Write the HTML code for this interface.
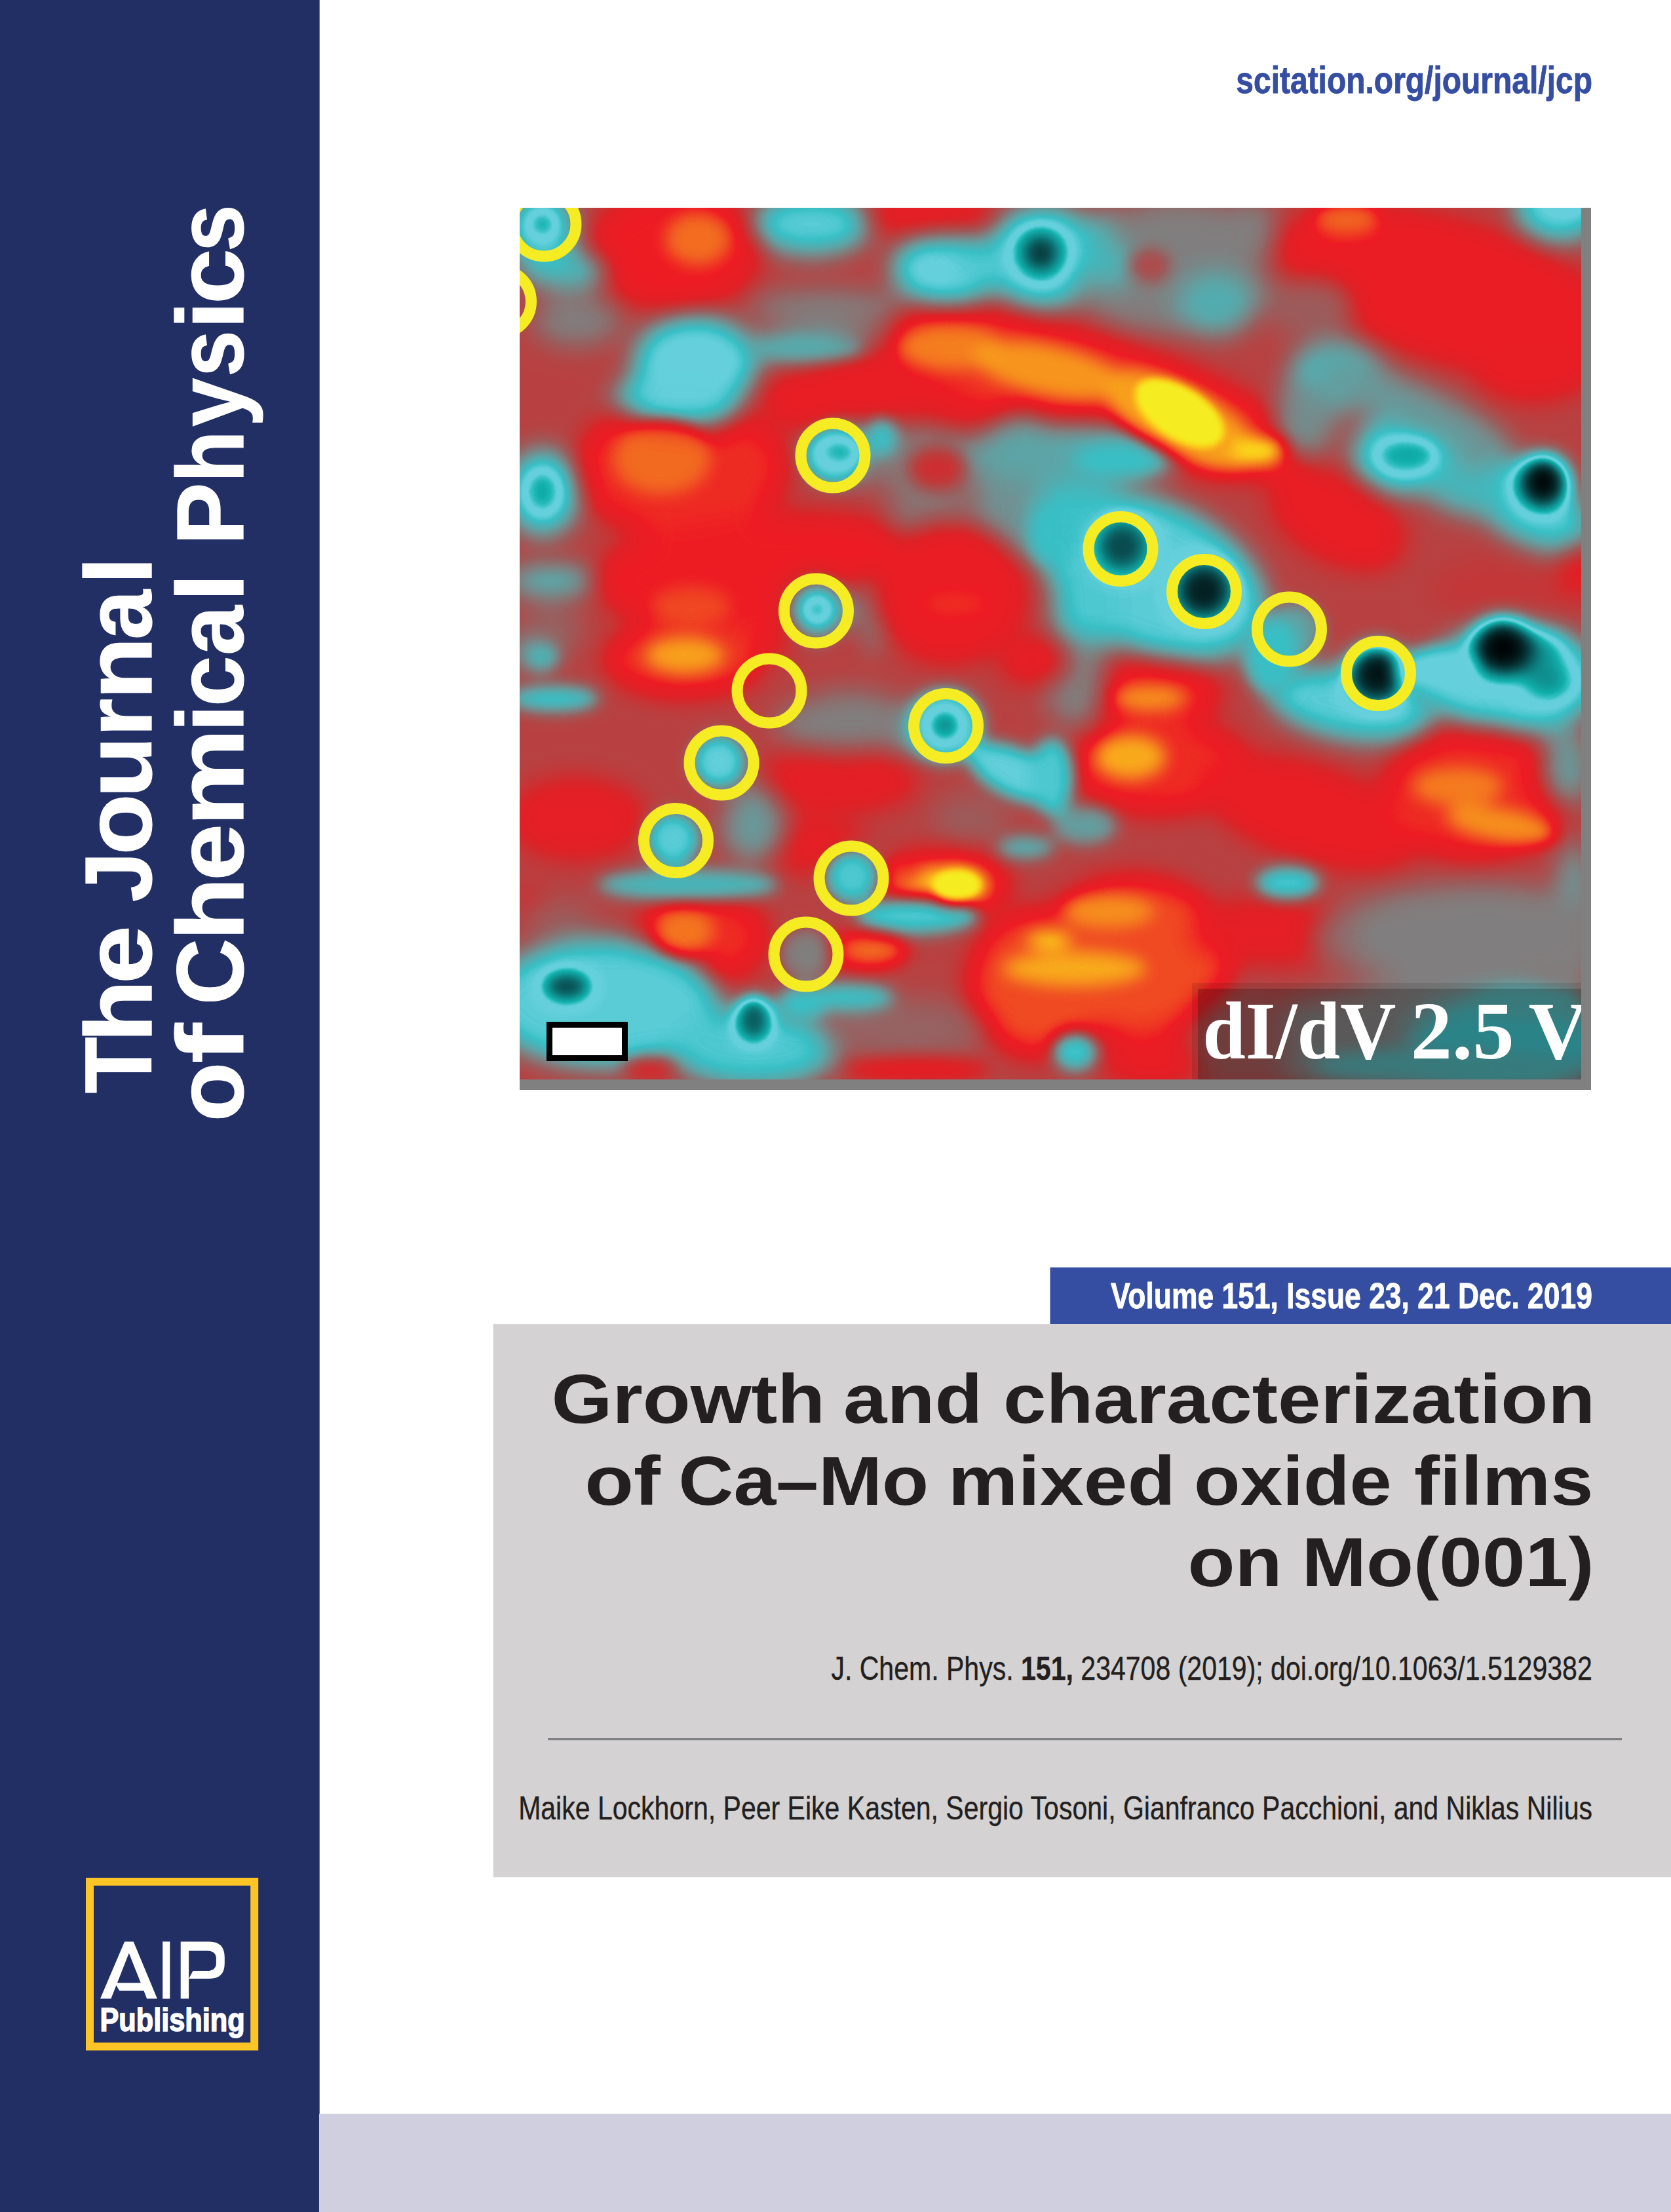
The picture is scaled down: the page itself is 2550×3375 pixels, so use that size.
<!DOCTYPE html>
<html><head><meta charset="utf-8"><title>The Journal of Chemical Physics</title>
<style>html,body{margin:0;padding:0;background:#fff}body{width:2550px;height:3375px;overflow:hidden;font-family:"Liberation Sans",sans-serif}svg{display:block}text{font-family:"Liberation Sans",sans-serif}</style></head>
<body><svg width="2550" height="3375" viewBox="0 0 2550 3375">
<defs><filter id="bc" filterUnits="userSpaceOnUse" x="643" y="167" width="1920" height="1629" color-interpolation-filters="sRGB"><feGaussianBlur stdDeviation="20"/></filter><filter id="bd" filterUnits="userSpaceOnUse" x="643" y="167" width="1920" height="1629" color-interpolation-filters="sRGB"><feGaussianBlur stdDeviation="16"/></filter><filter id="bm" filterUnits="userSpaceOnUse" x="643" y="167" width="1920" height="1629" color-interpolation-filters="sRGB"><feGaussianBlur stdDeviation="12"/></filter><filter id="bf" filterUnits="userSpaceOnUse" x="643" y="167" width="1920" height="1629" color-interpolation-filters="sRGB"><feGaussianBlur stdDeviation="6"/></filter><filter id="cm" filterUnits="userSpaceOnUse" x="643" y="167" width="1920" height="1629" color-interpolation-filters="sRGB"><feComponentTransfer><feFuncR type="table" tableValues="0.000 0.006 0.011 0.017 0.022 0.028 0.034 0.039 0.044 0.048 0.053 0.058 0.063 0.069 0.205 0.384 0.402 0.394 0.307 0.220 0.269 0.319 0.369 0.413 0.458 0.502 0.539 0.575 0.612 0.651 0.690 0.729 0.770 0.810 0.850 0.880 0.897 0.915 0.933 0.936 0.939 0.942 0.945 0.952 0.959 0.965 0.972 0.978 0.984 0.973 0.961"/><feFuncG type="table" tableValues="0.016 0.056 0.096 0.137 0.182 0.232 0.283 0.333 0.395 0.457 0.518 0.578 0.635 0.692 0.753 0.816 0.820 0.816 0.784 0.753 0.716 0.680 0.643 0.596 0.549 0.502 0.455 0.408 0.361 0.324 0.288 0.251 0.217 0.184 0.150 0.130 0.123 0.117 0.110 0.171 0.231 0.292 0.353 0.418 0.483 0.548 0.621 0.703 0.784 0.859 0.933"/><feFuncB type="table" tableValues="0.020 0.061 0.103 0.144 0.190 0.242 0.294 0.345 0.403 0.462 0.520 0.575 0.626 0.677 0.764 0.863 0.867 0.860 0.818 0.776 0.735 0.693 0.651 0.601 0.552 0.502 0.455 0.408 0.361 0.324 0.288 0.251 0.222 0.193 0.164 0.148 0.146 0.143 0.141 0.139 0.137 0.135 0.133 0.128 0.122 0.117 0.111 0.107 0.102 0.118 0.133"/></feComponentTransfer></filter>
<clipPath id="ic"><rect x="793" y="317" width="1620" height="1329.5"/></clipPath>
</defs>
<rect x="0" y="0" width="487.7" height="3375" fill="#222f64"/>
<rect x="487" y="3225.1" width="2063" height="150" fill="#d0cfdf"/>
<text x="1886.32" y="142.00" font-size="57.50" textLength="543.62" lengthAdjust="spacingAndGlyphs" fill="#354ea2" xml:space="preserve" stroke="#354ea2" stroke-width="0.9"><tspan font-family="Liberation Sans" font-weight="bold">scitation.org/journal/jcp</tspan></text>
<rect x="1602.5" y="1933.7" width="948" height="86.5" fill="#354ea2"/>
<text x="1695.03" y="1995.70" font-size="56.00" textLength="734.88" lengthAdjust="spacingAndGlyphs" fill="#fff" xml:space="preserve" stroke="#fff" stroke-width="0.9"><tspan font-family="Liberation Sans" font-weight="bold">Volume 151, Issue 23, 21 Dec. 2019</tspan></text>
<rect x="752.7" y="2020.2" width="1798" height="844" fill="#d4d2d3"/>
<text x="841.40" y="2170.80" font-size="106.50" textLength="417.94" lengthAdjust="spacingAndGlyphs" fill="#231f20" xml:space="preserve" ><tspan font-family="Liberation Sans" font-weight="bold">Growth</tspan></text>
<text x="1287.14" y="2170.80" font-size="106.50" textLength="212.22" lengthAdjust="spacingAndGlyphs" fill="#231f20" xml:space="preserve" ><tspan font-family="Liberation Sans" font-weight="bold">and</tspan></text>
<text x="1531.01" y="2170.80" font-size="106.50" textLength="903.23" lengthAdjust="spacingAndGlyphs" fill="#231f20" xml:space="preserve" ><tspan font-family="Liberation Sans" font-weight="bold">characterization</tspan></text>
<text x="892.23" y="2295.80" font-size="106.50" textLength="115.51" lengthAdjust="spacingAndGlyphs" fill="#231f20" xml:space="preserve" ><tspan font-family="Liberation Sans" font-weight="bold">of</tspan></text>
<text x="1035.22" y="2295.80" font-size="106.50" textLength="382.05" lengthAdjust="spacingAndGlyphs" fill="#231f20" xml:space="preserve" ><tspan font-family="Liberation Sans" font-weight="bold">Ca–Mo</tspan></text>
<text x="1446.80" y="2295.80" font-size="106.50" textLength="346.94" lengthAdjust="spacingAndGlyphs" fill="#231f20" xml:space="preserve" ><tspan font-family="Liberation Sans" font-weight="bold">mixed</tspan></text>
<text x="1822.09" y="2295.80" font-size="106.50" textLength="301.82" lengthAdjust="spacingAndGlyphs" fill="#231f20" xml:space="preserve" ><tspan font-family="Liberation Sans" font-weight="bold">oxide</tspan></text>
<text x="2158.01" y="2295.80" font-size="106.50" textLength="273.37" lengthAdjust="spacingAndGlyphs" fill="#231f20" xml:space="preserve" ><tspan font-family="Liberation Sans" font-weight="bold">films</tspan></text>
<text x="1812.40" y="2420.30" font-size="106.50" textLength="144.18" lengthAdjust="spacingAndGlyphs" fill="#231f20" xml:space="preserve" ><tspan font-family="Liberation Sans" font-weight="bold">on</tspan></text>
<text x="1986.71" y="2420.30" font-size="106.50" textLength="445.81" lengthAdjust="spacingAndGlyphs" fill="#231f20" xml:space="preserve" ><tspan font-family="Liberation Sans" font-weight="bold">Mo(001)</tspan></text>
<text x="1268.38" y="2563.00" font-size="50.00" textLength="1161.37" lengthAdjust="spacingAndGlyphs" fill="#231f20" xml:space="preserve" stroke="#231f20" stroke-width="0.4"><tspan font-family="Liberation Sans" font-weight="normal">J. Chem. Phys. </tspan><tspan font-family="Liberation Sans" font-weight="bold">151,</tspan><tspan font-family="Liberation Sans" font-weight="normal"> 234708 (2019); doi.org/10.1063/1.5129382</tspan></text>
<rect x="836" y="2652" width="1639" height="3.2" fill="#808184"/>
<text x="791.14" y="2776.30" font-size="50.00" textLength="1638.86" lengthAdjust="spacingAndGlyphs" fill="#231f20" xml:space="preserve" stroke="#231f20" stroke-width="0.4"><tspan font-family="Liberation Sans" font-weight="normal">Maike Lockhorn, Peer Eike Kasten, Sergio Tosoni, Gianfranco Pacchioni, and Niklas Nilius</tspan></text>
<g transform="translate(230.6,0) rotate(-90)" stroke="#fff" stroke-width="1.2"><text x="-1668.55" y="0.00" font-size="145.00" textLength="86.35" lengthAdjust="spacingAndGlyphs" fill="#fff" xml:space="preserve" ><tspan font-family="Liberation Sans" font-weight="bold">T</tspan></text><text x="-1590.40" y="0.00" font-size="145.00" textLength="95.57" lengthAdjust="spacingAndGlyphs" fill="#fff" xml:space="preserve" ><tspan font-family="Liberation Sans" font-weight="bold">h</tspan></text><text x="-1501.16" y="0.00" font-size="145.00" textLength="89.24" lengthAdjust="spacingAndGlyphs" fill="#fff" xml:space="preserve" ><tspan font-family="Liberation Sans" font-weight="bold">e</tspan></text><text x="-1376.36" y="0.00" font-size="145.00" textLength="76.54" lengthAdjust="spacingAndGlyphs" fill="#fff" xml:space="preserve" ><tspan font-family="Liberation Sans" font-weight="bold">J</tspan></text><text x="-1304.56" y="0.00" font-size="145.00" textLength="93.29" lengthAdjust="spacingAndGlyphs" fill="#fff" xml:space="preserve" ><tspan font-family="Liberation Sans" font-weight="bold">o</tspan></text><text x="-1217.59" y="0.00" font-size="145.00" textLength="94.47" lengthAdjust="spacingAndGlyphs" fill="#fff" xml:space="preserve" ><tspan font-family="Liberation Sans" font-weight="bold">u</tspan></text><text x="-1124.53" y="0.00" font-size="145.00" textLength="58.88" lengthAdjust="spacingAndGlyphs" fill="#fff" xml:space="preserve" ><tspan font-family="Liberation Sans" font-weight="bold">r</tspan></text><text x="-1067.41" y="0.00" font-size="145.00" textLength="95.92" lengthAdjust="spacingAndGlyphs" fill="#fff" xml:space="preserve" ><tspan font-family="Liberation Sans" font-weight="bold">n</tspan></text><text x="-975.95" y="0.00" font-size="145.00" textLength="75.82" lengthAdjust="spacingAndGlyphs" fill="#fff" xml:space="preserve" ><tspan font-family="Liberation Sans" font-weight="bold">a</tspan></text><text x="-892.32" y="0.00" font-size="145.00" textLength="43.17" lengthAdjust="spacingAndGlyphs" fill="#fff" xml:space="preserve" ><tspan font-family="Liberation Sans" font-weight="bold">l</tspan></text></g>
<g transform="translate(371.0,0) rotate(-90)" stroke="#fff" stroke-width="1.2"><text x="-1711.52" y="0.00" font-size="145.00" textLength="91.11" lengthAdjust="spacingAndGlyphs" fill="#fff" xml:space="preserve" ><tspan font-family="Liberation Sans" font-weight="bold">o</tspan></text><text x="-1622.63" y="0.00" font-size="145.00" textLength="61.26" lengthAdjust="spacingAndGlyphs" fill="#fff" xml:space="preserve" ><tspan font-family="Liberation Sans" font-weight="bold">f</tspan></text><text x="-1533.26" y="0.00" font-size="145.00" textLength="101.48" lengthAdjust="spacingAndGlyphs" fill="#fff" xml:space="preserve" ><tspan font-family="Liberation Sans" font-weight="bold">C</tspan></text><text x="-1434.98" y="0.00" font-size="145.00" textLength="96.34" lengthAdjust="spacingAndGlyphs" fill="#fff" xml:space="preserve" ><tspan font-family="Liberation Sans" font-weight="bold">h</tspan></text><text x="-1344.01" y="0.00" font-size="145.00" textLength="87.17" lengthAdjust="spacingAndGlyphs" fill="#fff" xml:space="preserve" ><tspan font-family="Liberation Sans" font-weight="bold">e</tspan></text><text x="-1260.74" y="0.00" font-size="145.00" textLength="149.63" lengthAdjust="spacingAndGlyphs" fill="#fff" xml:space="preserve" ><tspan font-family="Liberation Sans" font-weight="bold">m</tspan></text><text x="-1117.92" y="0.00" font-size="145.00" textLength="43.97" lengthAdjust="spacingAndGlyphs" fill="#fff" xml:space="preserve" ><tspan font-family="Liberation Sans" font-weight="bold">i</tspan></text><text x="-1078.03" y="0.00" font-size="145.00" textLength="77.50" lengthAdjust="spacingAndGlyphs" fill="#fff" xml:space="preserve" ><tspan font-family="Liberation Sans" font-weight="bold">c</tspan></text><text x="-999.95" y="0.00" font-size="145.00" textLength="75.82" lengthAdjust="spacingAndGlyphs" fill="#fff" xml:space="preserve" ><tspan font-family="Liberation Sans" font-weight="bold">a</tspan></text><text x="-918.17" y="0.00" font-size="145.00" textLength="43.77" lengthAdjust="spacingAndGlyphs" fill="#fff" xml:space="preserve" ><tspan font-family="Liberation Sans" font-weight="bold">l</tspan></text><text x="-832.08" y="0.00" font-size="145.00" textLength="95.76" lengthAdjust="spacingAndGlyphs" fill="#fff" xml:space="preserve" ><tspan font-family="Liberation Sans" font-weight="bold">P</tspan></text><text x="-736.60" y="0.00" font-size="145.00" textLength="79.66" lengthAdjust="spacingAndGlyphs" fill="#fff" xml:space="preserve" ><tspan font-family="Liberation Sans" font-weight="bold">h</tspan></text><text x="-650.93" y="0.00" font-size="145.00" textLength="74.22" lengthAdjust="spacingAndGlyphs" fill="#fff" xml:space="preserve" ><tspan font-family="Liberation Sans" font-weight="bold">y</tspan></text><text x="-574.96" y="0.00" font-size="145.00" textLength="70.88" lengthAdjust="spacingAndGlyphs" fill="#fff" xml:space="preserve" ><tspan font-family="Liberation Sans" font-weight="bold">s</tspan></text><text x="-502.77" y="0.00" font-size="145.00" textLength="43.77" lengthAdjust="spacingAndGlyphs" fill="#fff" xml:space="preserve" ><tspan font-family="Liberation Sans" font-weight="bold">i</tspan></text><text x="-464.03" y="0.00" font-size="145.00" textLength="84.56" lengthAdjust="spacingAndGlyphs" fill="#fff" xml:space="preserve" ><tspan font-family="Liberation Sans" font-weight="bold">c</tspan></text><text x="-384.12" y="0.00" font-size="145.00" textLength="71.80" lengthAdjust="spacingAndGlyphs" fill="#fff" xml:space="preserve" ><tspan font-family="Liberation Sans" font-weight="bold">s</tspan></text></g>
<rect x="137" y="2871" width="251.2" height="251.5" fill="none" stroke="#fcc424" stroke-width="12"/>
<path fill="#fff" fill-rule="evenodd" d="M153.0,3049.6 L190.1,2962.4 L203.7,2962.4 L239.9,3049.6 L224.1,3049.6 L219.5,3037.6 L182.4,3037.6 L177.4,3029.2 L169.4,3049.6 Z M196.8,2980.1 L214.8,3025.5 L178.9,3025.5 Z"/>
<rect x="248.2" y="2962.4" width="11.1" height="87.2" fill="#fff"/>
<path fill="#fff" fill-rule="evenodd" d="M275.7,2962.4 L319.6,2962.4 Q342.8,2962.4 342.8,2986.6 L342.8,2995.8 Q342.8,3019.0 319.6,3019.0 L294.6,3019.0 L288.1,3019.0 L288.1,3049.6 L275.7,3049.6 L275.7,2962.4 Z M288.1,2976.4 L315.9,2976.4 Q329.9,2976.4 329.9,2988.4 L329.9,2994.9 Q329.9,3007.0 315.9,3007.0 L294.6,3007.0 L288.1,3019.0 Z"/>
<text x="152.44" y="3098.80" font-size="49.50" textLength="221.25" lengthAdjust="spacingAndGlyphs" fill="#fff" xml:space="preserve" stroke="#fff" stroke-width="1.6"><tspan font-family="Liberation Sans" font-weight="bold">Publishing</tspan></text>
<rect x="793" y="317" width="1635" height="1346" fill="#808080"/>
<g clip-path="url(#ic)"><g filter="url(#cm)">
<rect x="643" y="167" width="1920" height="1629" fill="rgb(158,158,158)"/>
<g filter="url(#bc)">
<ellipse cx="1030" cy="380" rx="130" ry="90" fill="rgb(194,194,194)"/>
<ellipse cx="880" cy="490" rx="70" ry="40" fill="rgb(128,128,128)"/>
<ellipse cx="1260" cy="470" rx="120" ry="30" fill="rgb(128,128,128)"/>
<ellipse cx="825" cy="350" rx="55" ry="60" fill="rgb(92,92,92)"/>
<ellipse cx="860" cy="412" rx="70" ry="28" fill="rgb(97,97,97)"/>
<ellipse cx="1238" cy="342" rx="92" ry="48" fill="rgb(89,89,89)"/>
<ellipse cx="1445" cy="410" rx="85" ry="58" fill="rgb(84,84,84)"/>
<ellipse cx="1592" cy="392" rx="92" ry="80" fill="rgb(89,89,89)"/>
<ellipse cx="1510" cy="400" rx="60" ry="35" fill="rgb(92,92,92)"/>
<ellipse cx="1060" cy="555" rx="95" ry="75" fill="rgb(84,84,84)"/>
<ellipse cx="1030" cy="610" rx="95" ry="45" fill="rgb(87,87,87)"/>
<ellipse cx="1250" cy="530" rx="110" ry="22" fill="rgb(107,107,107)"/>
<ellipse cx="1040" cy="715" rx="160" ry="105" fill="rgb(199,199,199)"/>
<ellipse cx="1400" cy="590" rx="240" ry="70" fill="rgb(189,189,189)" transform="rotate(-6 1400 590)"/>
<ellipse cx="1680" cy="600" rx="330" ry="80" fill="rgb(204,204,204)" transform="rotate(18 1680 600)"/>
<ellipse cx="828" cy="752" rx="58" ry="68" fill="rgb(89,89,89)"/>
<ellipse cx="1295" cy="688" rx="60" ry="42" fill="rgb(92,92,92)"/>
<ellipse cx="1560" cy="740" rx="75" ry="115" fill="rgb(120,120,120)"/>
<ellipse cx="1200" cy="885" rx="290" ry="100" fill="rgb(194,194,194)"/>
<ellipse cx="1247" cy="930" rx="48" ry="48" fill="rgb(92,92,92)"/>
<ellipse cx="840" cy="886" rx="70" ry="22" fill="rgb(97,97,97)"/>
<ellipse cx="815" cy="990" rx="35" ry="28" fill="rgb(97,97,97)"/>
<ellipse cx="1400" cy="700" rx="95" ry="60" fill="rgb(133,133,133)"/>
<ellipse cx="1420" cy="790" rx="70" ry="40" fill="rgb(133,133,133)"/>
<ellipse cx="1588" cy="386" rx="30" ry="30" fill="rgb(0,0,0)"/>
<ellipse cx="2215" cy="445" rx="275" ry="105" fill="rgb(191,191,191)" transform="rotate(17 2215 445)"/>
<ellipse cx="2340" cy="560" rx="90" ry="50" fill="rgb(189,189,189)"/>
<ellipse cx="1790" cy="440" rx="150" ry="70" fill="rgb(128,128,128)"/>
<ellipse cx="1855" cy="465" rx="60" ry="50" fill="rgb(107,107,107)"/>
<ellipse cx="1690" cy="380" rx="40" ry="60" fill="rgb(102,102,102)"/>
<ellipse cx="2040" cy="575" rx="75" ry="55" fill="rgb(97,97,97)"/>
<ellipse cx="1990" cy="640" rx="50" ry="60" fill="rgb(122,122,122)"/>
<ellipse cx="2148" cy="693" rx="85" ry="62" fill="rgb(87,87,87)"/>
<ellipse cx="2335" cy="775" rx="105" ry="55" fill="rgb(92,92,92)" transform="rotate(28 2335 775)"/>
<ellipse cx="2230" cy="745" rx="70" ry="40" fill="rgb(102,102,102)" transform="rotate(20 2230 745)"/>
<ellipse cx="2040" cy="792" rx="110" ry="62" fill="rgb(189,189,189)" transform="rotate(28 2040 792)"/>
<ellipse cx="2300" cy="900" rx="120" ry="50" fill="rgb(163,163,163)"/>
<ellipse cx="1760" cy="880" rx="185" ry="115" fill="rgb(89,89,89)" transform="rotate(25 1760 880)"/>
<ellipse cx="1650" cy="790" rx="70" ry="70" fill="rgb(97,97,97)"/>
<ellipse cx="1658" cy="930" rx="52" ry="70" fill="rgb(92,92,92)"/>
<ellipse cx="1690" cy="700" rx="55" ry="25" fill="rgb(112,112,112)"/>
<ellipse cx="2380" cy="315" rx="70" ry="55" fill="rgb(87,87,87)"/>
<ellipse cx="2410" cy="870" rx="25" ry="40" fill="rgb(189,189,189)"/>
<ellipse cx="1045" cy="1005" rx="120" ry="55" fill="rgb(204,204,204)"/>
<ellipse cx="880" cy="1250" rx="105" ry="62" fill="rgb(184,184,184)"/>
<ellipse cx="815" cy="1385" rx="35" ry="25" fill="rgb(184,184,184)"/>
<ellipse cx="1300" cy="1100" rx="90" ry="50" fill="rgb(133,133,133)"/>
<ellipse cx="1280" cy="1190" rx="120" ry="50" fill="rgb(184,184,184)"/>
<ellipse cx="1230" cy="1290" rx="90" ry="40" fill="rgb(184,184,184)"/>
<ellipse cx="1150" cy="1240" rx="40" ry="50" fill="rgb(128,128,128)"/>
<ellipse cx="1385" cy="1112" rx="60" ry="38" fill="rgb(115,115,115)"/>
<ellipse cx="1440" cy="1350" rx="100" ry="50" fill="rgb(204,204,204)"/>
<ellipse cx="1070" cy="1430" rx="100" ry="70" fill="rgb(199,199,199)"/>
<ellipse cx="1590" cy="1500" rx="110" ry="110" fill="rgb(209,209,209)"/>
<ellipse cx="920" cy="1530" rx="180" ry="100" fill="rgb(89,89,89)"/>
<ellipse cx="1150" cy="1600" rx="130" ry="60" fill="rgb(92,92,92)"/>
<ellipse cx="1380" cy="1570" rx="130" ry="50" fill="rgb(140,140,140)"/>
<ellipse cx="2060" cy="1075" rx="130" ry="55" fill="rgb(89,89,89)" transform="rotate(10 2060 1075)"/>
<ellipse cx="2310" cy="1036" rx="135" ry="85" fill="rgb(87,87,87)"/>
<ellipse cx="1760" cy="1060" rx="100" ry="50" fill="rgb(199,199,199)"/>
<ellipse cx="1770" cy="1170" rx="140" ry="70" fill="rgb(199,199,199)"/>
<ellipse cx="2000" cy="1240" rx="170" ry="70" fill="rgb(189,189,189)" transform="rotate(18 2000 1240)"/>
<ellipse cx="2250" cy="1210" rx="140" ry="100" fill="rgb(199,199,199)"/>
<ellipse cx="1730" cy="1460" rx="150" ry="120" fill="rgb(209,209,209)"/>
<ellipse cx="1950" cy="1420" rx="130" ry="50" fill="rgb(184,184,184)"/>
<ellipse cx="2200" cy="1430" rx="200" ry="80" fill="rgb(138,138,138)"/>
<ellipse cx="2402" cy="1400" rx="30" ry="120" fill="rgb(115,115,115)"/>
<ellipse cx="1760" cy="1615" rx="80" ry="40" fill="rgb(189,189,189)"/>
<ellipse cx="1290" cy="1105" rx="110" ry="45" fill="rgb(128,128,128)"/>
<ellipse cx="1150" cy="1262" rx="50" ry="55" fill="rgb(117,117,117)"/>
<ellipse cx="1480" cy="1250" rx="60" ry="40" fill="rgb(143,143,143)"/>
<ellipse cx="1640" cy="1040" rx="50" ry="70" fill="rgb(128,128,128)"/>
<ellipse cx="2260" cy="1430" rx="200" ry="85" fill="rgb(128,128,128)"/>
<ellipse cx="2200" cy="1590" rx="320" ry="90" fill="rgb(128,128,128)"/>
<ellipse cx="2300" cy="1590" rx="150" ry="70" fill="rgb(99,99,99)"/>
<ellipse cx="1890" cy="1585" rx="75" ry="75" fill="rgb(145,145,145)"/>
<ellipse cx="1045" cy="625" rx="85" ry="30" fill="rgb(87,87,87)"/>
<ellipse cx="1420" cy="328" rx="100" ry="30" fill="rgb(189,189,189)"/>
<ellipse cx="1640" cy="690" rx="170" ry="50" fill="rgb(112,112,112)"/>
<ellipse cx="1800" cy="350" rx="110" ry="50" fill="rgb(128,128,128)"/>
<ellipse cx="1910" cy="350" rx="40" ry="50" fill="rgb(128,128,128)"/>
<ellipse cx="2000" cy="470" rx="70" ry="50" fill="rgb(143,143,143)"/>
<ellipse cx="2160" cy="625" rx="170" ry="40" fill="rgb(117,117,117)" transform="rotate(25 2160 625)"/>
<ellipse cx="1330" cy="935" rx="30" ry="60" fill="rgb(128,128,128)"/>
<ellipse cx="840" cy="960" rx="50" ry="40" fill="rgb(140,140,140)"/>
<ellipse cx="1450" cy="905" rx="115" ry="105" fill="rgb(191,191,191)"/>
<ellipse cx="1578" cy="1008" rx="50" ry="35" fill="rgb(189,189,189)"/>
<ellipse cx="2390" cy="1170" rx="40" ry="60" fill="rgb(117,117,117)"/>
<ellipse cx="850" cy="1400" rx="60" ry="30" fill="rgb(143,143,143)"/>
</g>
<g filter="url(#bd)">
<ellipse cx="2355" cy="735" rx="38" ry="40" fill="rgb(0,0,0)"/>
<ellipse cx="1712" cy="833" rx="42" ry="42" fill="rgb(31,31,31)"/>
<ellipse cx="1837" cy="901" rx="43" ry="43" fill="rgb(13,13,13)"/>
<ellipse cx="2362" cy="1040" rx="36" ry="24" fill="rgb(51,51,51)"/>
<ellipse cx="2345" cy="1002" rx="40" ry="34" fill="rgb(56,56,56)"/>
<ellipse cx="2293" cy="988" rx="44" ry="42" fill="rgb(0,0,0)"/>
<ellipse cx="2101" cy="1028" rx="44" ry="44" fill="rgb(8,8,8)"/>
</g>
<g filter="url(#bm)">
<ellipse cx="1600" cy="815" rx="28" ry="45" fill="rgb(97,97,97)"/>
<ellipse cx="1430" cy="715" rx="42" ry="32" fill="rgb(168,168,168)"/>
<ellipse cx="1065" cy="365" rx="50" ry="40" fill="rgb(224,224,224)" fill-opacity="0.85"/>
<ellipse cx="1010" cy="700" rx="75" ry="55" fill="rgb(224,224,224)" fill-opacity="0.8"/>
<ellipse cx="1450" cy="530" rx="80" ry="35" fill="rgb(230,230,230)" fill-opacity="0.8"/>
<ellipse cx="1600" cy="565" rx="120" ry="38" fill="rgb(235,235,235)" fill-opacity="0.9" transform="rotate(12 1600 565)"/>
<ellipse cx="1800" cy="640" rx="130" ry="52" fill="rgb(235,235,235)" transform="rotate(28 1800 640)"/>
<ellipse cx="828" cy="342" rx="22" ry="22" fill="rgb(64,64,64)"/>
<ellipse cx="828" cy="750" rx="25" ry="32" fill="rgb(64,64,64)"/>
<ellipse cx="1283" cy="688" rx="22" ry="12" fill="rgb(66,66,66)"/>
<ellipse cx="1247" cy="930" rx="20" ry="20" fill="rgb(66,66,66)"/>
<ellipse cx="2055" cy="335" rx="50" ry="25" fill="rgb(217,217,217)"/>
<ellipse cx="1755" cy="405" rx="30" ry="25" fill="rgb(153,153,153)"/>
<ellipse cx="2148" cy="695" rx="45" ry="26" fill="rgb(64,64,64)"/>
<ellipse cx="2392" cy="300" rx="30" ry="20" fill="rgb(69,69,69)"/>
<ellipse cx="1045" cy="1000" rx="60" ry="28" fill="rgb(235,235,235)"/>
<ellipse cx="827" cy="1002" rx="25" ry="20" fill="rgb(102,102,102)"/>
<ellipse cx="845" cy="1066" rx="70" ry="20" fill="rgb(94,94,94)"/>
<ellipse cx="1097" cy="1162" rx="42" ry="42" fill="rgb(87,87,87)"/>
<ellipse cx="1027" cy="1280" rx="42" ry="42" fill="rgb(89,89,89)"/>
<ellipse cx="1050" cy="1350" rx="140" ry="25" fill="rgb(102,102,102)"/>
<ellipse cx="1442" cy="1107" rx="60" ry="58" fill="rgb(92,92,92)"/>
<ellipse cx="1442" cy="1107" rx="22" ry="22" fill="rgb(51,51,51)"/>
<ellipse cx="1550" cy="1180" rx="80" ry="38" fill="rgb(87,87,87)" transform="rotate(25 1550 1180)"/>
<ellipse cx="1300" cy="1337" rx="42" ry="42" fill="rgb(92,92,92)"/>
<ellipse cx="1400" cy="1398" rx="95" ry="28" fill="rgb(92,92,92)"/>
<ellipse cx="1045" cy="1420" rx="45" ry="35" fill="rgb(222,222,222)"/>
<ellipse cx="1320" cy="1450" rx="70" ry="30" fill="rgb(189,189,189)"/>
<ellipse cx="1330" cy="1450" rx="45" ry="22" fill="rgb(219,219,219)"/>
<ellipse cx="865" cy="1505" rx="35" ry="22" fill="rgb(31,31,31)"/>
<ellipse cx="1150" cy="1555" rx="28" ry="35" fill="rgb(38,38,38)"/>
<ellipse cx="1400" cy="1632" rx="110" ry="18" fill="rgb(184,184,184)"/>
<ellipse cx="990" cy="1632" rx="40" ry="15" fill="rgb(178,178,178)"/>
<ellipse cx="1755" cy="1065" rx="55" ry="20" fill="rgb(230,230,230)"/>
<ellipse cx="1725" cy="1155" rx="55" ry="35" fill="rgb(237,237,237)"/>
<ellipse cx="1605" cy="1185" rx="35" ry="60" fill="rgb(92,92,92)"/>
<ellipse cx="1655" cy="1260" rx="50" ry="30" fill="rgb(115,115,115)"/>
<ellipse cx="2225" cy="1200" rx="70" ry="30" fill="rgb(224,224,224)"/>
<ellipse cx="2290" cy="1258" rx="85" ry="26" fill="rgb(230,230,230)" transform="rotate(10 2290 1258)"/>
<ellipse cx="1640" cy="1478" rx="110" ry="28" fill="rgb(237,237,237)"/>
<ellipse cx="1601" cy="1434" rx="35" ry="12" fill="rgb(250,250,250)"/>
<ellipse cx="1692" cy="1391" rx="70" ry="25" fill="rgb(230,230,230)"/>
<ellipse cx="1965" cy="1347" rx="50" ry="25" fill="rgb(92,92,92)"/>
<ellipse cx="1640" cy="1605" rx="35" ry="30" fill="rgb(94,94,94)"/>
<ellipse cx="1430" cy="1346" rx="62" ry="24" fill="rgb(237,237,237)"/>
<ellipse cx="1460" cy="1350" rx="48" ry="30" fill="rgb(247,247,247)"/>
<ellipse cx="1378" cy="1332" rx="26" ry="14" fill="rgb(204,204,204)"/>
<ellipse cx="2200" cy="1625" rx="200" ry="25" fill="rgb(107,107,107)"/>
<ellipse cx="2330" cy="1530" rx="80" ry="25" fill="rgb(107,107,107)"/>
<ellipse cx="1055" cy="925" rx="60" ry="30" fill="rgb(214,214,214)" fill-opacity="0.7"/>
<ellipse cx="1975" cy="962" rx="45" ry="45" fill="rgb(115,115,115)"/>
<ellipse cx="1272" cy="695" rx="45" ry="42" fill="rgb(87,87,87)"/>
<ellipse cx="1281" cy="690" rx="28" ry="14" fill="rgb(61,61,61)"/>
<ellipse cx="1230" cy="531" rx="90" ry="16" fill="rgb(107,107,107)"/>
<ellipse cx="1705" cy="702" rx="70" ry="26" fill="rgb(97,97,97)"/>
<ellipse cx="1345" cy="668" rx="25" ry="30" fill="rgb(97,97,97)"/>
<ellipse cx="1920" cy="688" rx="40" ry="22" fill="rgb(250,250,250)"/>
<ellipse cx="1457" cy="921" rx="50" ry="18" fill="rgb(204,204,204)" fill-opacity="0.7"/>
<ellipse cx="2190" cy="1022" rx="60" ry="35" fill="rgb(84,84,84)"/>
<ellipse cx="1940" cy="1000" rx="45" ry="60" fill="rgb(97,97,97)"/>
<ellipse cx="1290" cy="1522" rx="75" ry="22" fill="rgb(97,97,97)"/>
<ellipse cx="1230" cy="1456" rx="40" ry="40" fill="rgb(128,128,128)"/>
<ellipse cx="1565" cy="1293" rx="45" ry="18" fill="rgb(107,107,107)"/>
<ellipse cx="1225" cy="1532" rx="40" ry="28" fill="rgb(97,97,97)"/>
</g>
<g filter="url(#bf)">
<ellipse cx="1800" cy="630" rx="76" ry="40" fill="rgb(255,255,255)" transform="rotate(32 1800 630)"/>
<ellipse cx="1460" cy="1350" rx="37" ry="23" fill="rgb(255,255,255)"/>
</g>
</g>
<circle cx="830" cy="342" r="49" fill="none" stroke="#f5ec24" stroke-width="17"/>
<circle cx="761.5" cy="460" r="49" fill="none" stroke="#f5ec24" stroke-width="17"/>
<circle cx="1271" cy="695" r="49" fill="none" stroke="#f5ec24" stroke-width="17"/>
<circle cx="1245.5" cy="932" r="49" fill="none" stroke="#f5ec24" stroke-width="17"/>
<circle cx="1710" cy="837.5" r="49" fill="none" stroke="#f5ec24" stroke-width="17"/>
<circle cx="1837.5" cy="902.5" r="49" fill="none" stroke="#f5ec24" stroke-width="17"/>
<circle cx="1967.5" cy="960" r="49" fill="none" stroke="#f5ec24" stroke-width="17"/>
<circle cx="2103.5" cy="1027.5" r="49" fill="none" stroke="#f5ec24" stroke-width="17"/>
<circle cx="1174" cy="1054" r="49" fill="none" stroke="#f5ec24" stroke-width="17"/>
<circle cx="1101" cy="1164" r="49" fill="none" stroke="#f5ec24" stroke-width="17"/>
<circle cx="1031.5" cy="1282.5" r="49" fill="none" stroke="#f5ec24" stroke-width="17"/>
<circle cx="1443.5" cy="1107.5" r="49" fill="none" stroke="#f5ec24" stroke-width="17"/>
<circle cx="1299" cy="1340" r="49" fill="none" stroke="#f5ec24" stroke-width="17"/>
<circle cx="1230" cy="1456" r="49" fill="none" stroke="#f5ec24" stroke-width="17"/>
<rect x="838.5" y="1563.5" width="115" height="51" fill="#fff" stroke="#000" stroke-width="9"/>
<rect x="1819" y="1500" width="600" height="150" fill="#000" fill-opacity="0.10"/>
<rect x="1828" y="1508.7" width="600" height="150" fill="#000" fill-opacity="0.22"/>
<text x="1835.28" y="1614.80" font-size="124.00" textLength="295.07" lengthAdjust="spacingAndGlyphs" fill="#fff" xml:space="preserve" ><tspan font-family="Liberation Serif" font-weight="bold">dI/dV</tspan></text>
<text x="2152.70" y="1614.80" font-size="124.00" textLength="157.85" lengthAdjust="spacingAndGlyphs" fill="#fff" xml:space="preserve" ><tspan font-family="Liberation Serif" font-weight="bold">2.5</tspan></text>
<text x="2332.62" y="1614.80" font-size="124.00" textLength="90.79" lengthAdjust="spacingAndGlyphs" fill="#fff" xml:space="preserve" ><tspan font-family="Liberation Serif" font-weight="bold">V</tspan></text>
</g>
</svg></body></html>
